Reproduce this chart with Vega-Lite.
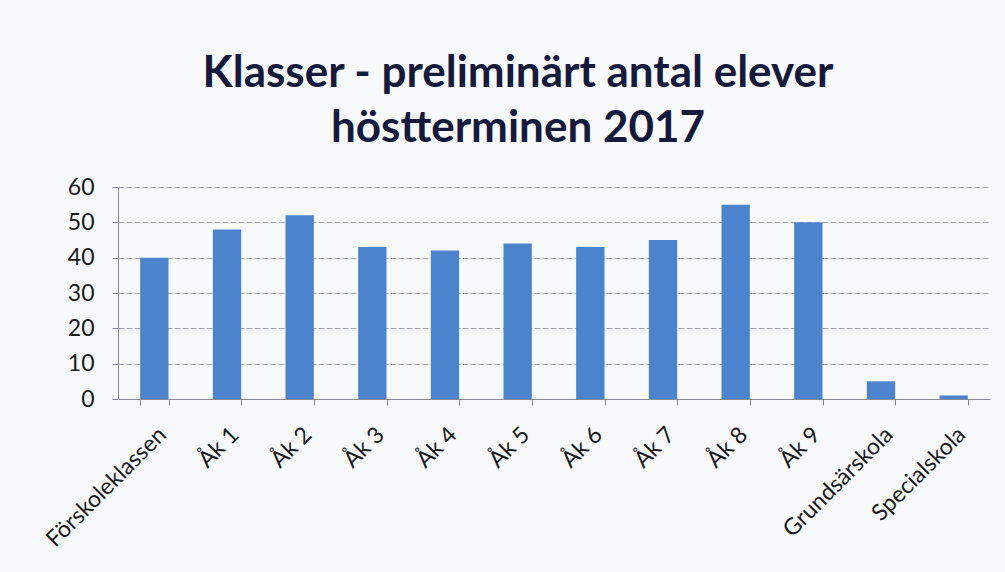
{
  "$schema": "https://vega.github.io/schema/vega-lite/v6.json",
  "width": 872,
  "height": 212,
  "autosize": "none",
  "padding": {"left": 118, "top": 187, "right": 15, "bottom": 173},
  "background": "#f8f9fb",
  "title": {
    "text": ["Klasser - preliminärt antal elever", "höstterminen 2017"],
    "font": "Lato",
    "fontSize": 44,
    "fontWeight": "bold",
    "color": "#151a3c",
    "anchor": "middle",
    "dx": -36,
    "offset": 25,
    "lineHeight": 55
  },
  "data": {
    "values": [
      {"klass": "Förskoleklassen", "elever": 40},
      {"klass": "Åk 1", "elever": 48},
      {"klass": "Åk 2", "elever": 52},
      {"klass": "Åk 3", "elever": 43},
      {"klass": "Åk 4", "elever": 42},
      {"klass": "Åk 5", "elever": 44},
      {"klass": "Åk 6", "elever": 43},
      {"klass": "Åk 7", "elever": 45},
      {"klass": "Åk 8", "elever": 55},
      {"klass": "Åk 9", "elever": 50},
      {"klass": "Grundsärskola", "elever": 5},
      {"klass": "Specialskola", "elever": 1}
    ]
  },
  "mark": {"type": "bar", "color": "#4b83cc"},
  "encoding": {
    "x": {
      "field": "klass",
      "type": "nominal",
      "sort": null,
      "title": null,
      "scale": {"paddingInner": 0.61, "paddingOuter": 0.305},
      "axis": {
        "labelAngle": -45,
        "labelFont": "Lato",
        "labelFontSize": 23,
        "labelColor": "#1a1a1a",
        "labelPadding": 18,
        "tickBand": "extent",
        "tickSize": 6,
        "tickColor": "#8a8a94",
        "domainColor": "#8a8a94",
        "grid": false
      }
    },
    "y": {
      "field": "elever",
      "type": "quantitative",
      "title": null,
      "scale": {"domain": [0, 60]},
      "axis": {
        "values": [0, 10, 20, 30, 40, 50, 60],
        "labelFont": "Lato",
        "labelFontSize": 23,
        "labelColor": "#1a1a1a",
        "labelPadding": 18,
        "tickSize": 6,
        "tickColor": "#8a8a94",
        "domainColor": "#8a8a94",
        "gridColor": "#a4a4ae",
        "gridDash": [6, 2]
      }
    }
  },
  "config": {"view": {"stroke": null}}
}
